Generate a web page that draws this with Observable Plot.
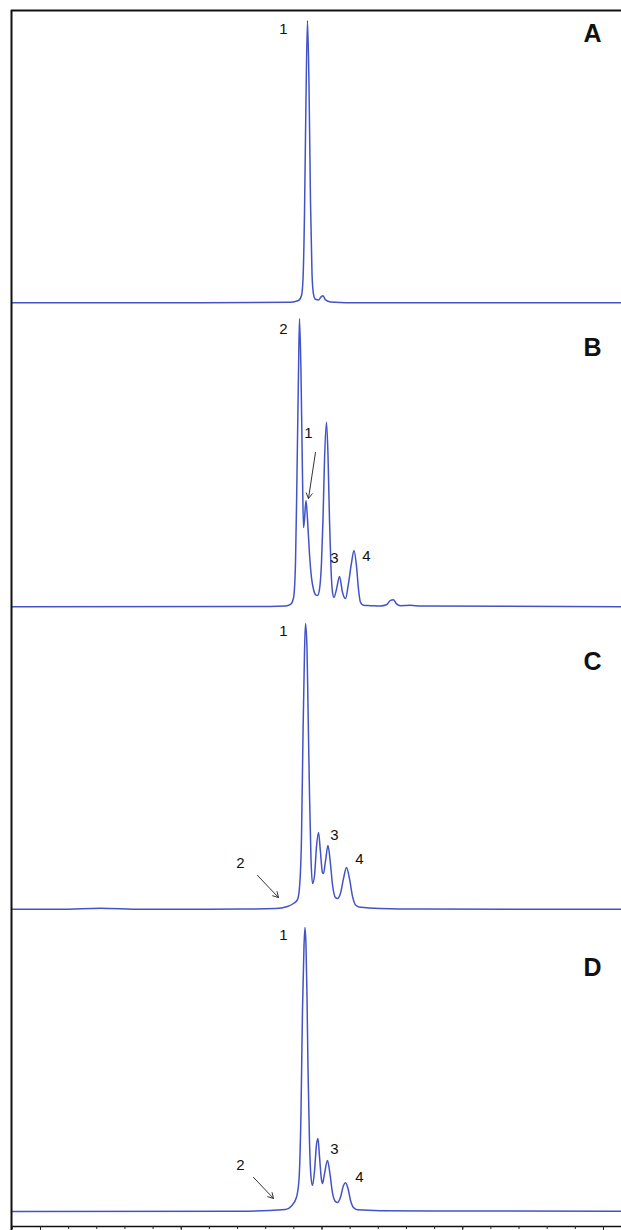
<!DOCTYPE html>
<html><head><meta charset="utf-8">
<script src="https://cdn.jsdelivr.net/npm/d3@7"></script>
<script src="https://cdn.jsdelivr.net/npm/@observablehq/plot@0.6"></script>
<style>html,body{margin:0;padding:0;background:#fff;} #chart{width:621px;height:1230px;overflow:hidden}</style>
</head><body><div id="chart"></div>
<script>
// Panels (chromatograms A–D)
const panels = ["A", "B", "C", "D"];

// Retention time (arbitrary units, major ticks every 5) and detector signal (% of tallest peak)
const tA = [-1.03, 5.684, 8.881, 9.165, 9.272, 9.325, 9.378, 9.432, 9.485, 9.538, 9.591, 9.645, 9.698, 9.769, 9.876, 9.964, 10.036, 10.124, 10.302, 11.368, 20.64];
const vA = [0, 0, 0.2, 0.8, 2.5, 8, 30, 70, 96.6, 75, 35, 10, 3, 1.2, 1.0, 2.0, 2.4, 1.0, 0.3, 0, 0];

const tB = [-1.03, 7.46, 8.703, 8.881, 8.988, 9.059, 9.112, 9.165, 9.201, 9.254, 9.307, 9.343, 9.378, 9.432, 9.485, 9.556, 9.627, 9.698, 9.787, 9.840, 9.911, 9.982, 10.036, 10.089, 10.160, 10.213, 10.266, 10.320, 10.373, 10.426, 10.515, 10.622, 10.728, 10.835, 10.941, 11.048, 11.137, 11.225, 11.297, 11.368, 11.474, 11.723, 12.078, 12.291, 12.433, 12.540, 12.647, 12.789, 13.144, 13.499, 20.64];
const vB = [0, 0.1, 0.3, 0.8, 3, 15, 45, 80, 98.6, 80, 45, 27.1, 30, 36.4, 30, 18, 10, 6, 4, 3.9, 6, 15, 30, 50, 63.1, 52, 30, 13, 5, 3.2, 6, 10.4, 5, 2.8, 8, 15, 19.3, 14, 6, 1.5, 0.5, 0.4, 0.3, 0.7, 2.2, 2.4, 1.0, 0.4, 0.5, 0.3, 0];

const tC = [-1.03, 0.71, 2.131, 3.552, 7.105, 8.348, 8.774, 8.988, 9.130, 9.201, 9.272, 9.325, 9.378, 9.414, 9.467, 9.503, 9.556, 9.609, 9.663, 9.734, 9.805, 9.876, 9.947, 10.018, 10.053, 10.124, 10.213, 10.302, 10.373, 10.48, 10.551, 10.657, 10.764, 10.870, 10.977, 11.083, 11.19, 11.368, 12.078, 13.499, 20.64];
const vC = [0.5, 0.5, 0.9, 0.5, 0.6, 0.8, 1.5, 2.5, 3.8, 8, 25, 60, 88, 98.3, 90, 70, 40, 18, 9.3, 12, 22, 26.8, 20, 13, 12.8, 17, 22.3, 16, 9, 4.5, 4.2, 6, 11, 14.8, 11, 5, 2, 1.2, 0.8, 0.6, 0.5];

const tD = [-1.03, 7.105, 8.703, 8.916, 9.094, 9.183, 9.254, 9.307, 9.361, 9.396, 9.432, 9.467, 9.503, 9.556, 9.609, 9.663, 9.734, 9.805, 9.858, 9.911, 9.982, 10.018, 10.089, 10.195, 10.284, 10.373, 10.48, 10.551, 10.657, 10.764, 10.835, 10.924, 11.012, 11.119, 11.261, 12.078, 14.565, 20.64];
const vD = [1.1, 1.2, 1.8, 3, 6, 12, 35, 70, 92, 98.3, 92, 75, 50, 25, 13, 10, 15, 24, 26.1, 20, 12, 10.7, 14, 18.6, 14, 7.5, 4.5, 4.2, 6, 10, 11, 9, 5, 2.5, 1.7, 1.4, 1.3, 1.2];

// Peak labels
const labelPanel = ["A", "B", "B", "B", "B", "C", "C", "C", "C", "D", "D", "D", "D"];
const labelText  = ["1", "2", "1", "3", "4", "1", "2", "3", "4", "1", "2", "3", "4"];
const labelT     = [8.632, 8.632, 9.52, 10.44, 11.58, 8.632, 7.105, 10.44, 11.33, 8.632, 7.105, 10.44, 11.33];
const labelV     = [93.5, 94.9, 59.3, 16.5, 17.2, 95.6, 16.2, 25.8, 17.5, 95.6, 16.9, 22.3, 12.8];

// Arrows pointing at minor peaks
const arrowPanel = ["B", "C", "D"];
const arrowT1 = [9.769, 7.709, 7.567];
const arrowV1 = [52.8, 12.1, 12.8];
const arrowT2 = [9.52, 8.455, 8.277];
const arrowV2 = [37.05, 4.55, 5.6];

// Panel letters
const letterT = [19.61, 19.61, 19.61, 19.61];
const letterV = [92.1, 88.4, 85.0, 84.6];

// Axis ticks (labels lie below the visible area)
const majorTicks = [0, 5, 10, 15, 20];
const minorTicks = d3.range(-1, 21);

const series = [[tA, vA], [tB, vB], [tC, vC], [tD, vD]];
const trace = series.flatMap(([ts, vs], i) => ts.map((t, j) => ({panel: panels[i], t, v: vs[j]})));
const labels = labelText.map((s, i) => ({panel: labelPanel[i], t: labelT[i], v: labelV[i], s}));
const arrows = arrowPanel.map((p, i) => ({panel: p, t1: arrowT1[i], v1: arrowV1[i], t2: arrowT2[i], v2: arrowV2[i]}));
const letters = panels.map((p, i) => ({panel: p, t: letterT[i], v: letterV[i]}));

const chart = Plot.plot({
  width: 621,
  height: 1230,
  marginLeft: 11,
  marginRight: 0,
  marginTop: 10,
  marginBottom: 4,
  style: {fontFamily: "'Liberation Sans', Arial, sans-serif", background: "#fff"},
  x: {domain: [-1.03, 20.64]},
  y: {domain: [-4, 100], axis: null},
  fy: {domain: panels, padding: 0, axis: null},
  marks: [
    Plot.line(trace, {x: "t", y: "v", fy: "panel", curve: "monotone-x", stroke: "#4353c6", strokeWidth: 1.5}),
    Plot.text(labels, {x: "t", y: "v", fy: "panel", text: "s", fontSize: 15, fill: "#111"}),
    Plot.arrow(arrows, {x1: "t1", y1: "v1", x2: "t2", y2: "v2", fy: "panel", stroke: "#333", strokeWidth: 1, headLength: 9}),
    Plot.text(letters, {x: "t", y: "v", fy: "panel", text: "panel", fontSize: 25, fontWeight: "bold", fill: "#111"}),
    // frame: top and left borders, bottom axis line
    Plot.ruleY([100], {fy: ["A"], stroke: "#111", strokeWidth: 2}),
    Plot.ruleX(panels, {x: () => -1.03, fy: d => d, y1: d => d === "D" ? -5.4 : -4, y2: 100, stroke: "#111", strokeWidth: 2}),
    Plot.ruleY([-4], {fy: ["D"], stroke: "#111", strokeWidth: 1.5}),
    Plot.axisX(minorTicks, {tickSize: 3, tickFormat: () => "", stroke: "#222"}),
    Plot.axisX(majorTicks, {tickSize: 5, tickFormat: () => "", stroke: "#222"})
  ]
});
document.getElementById("chart").appendChild(chart);
</script></body></html>
